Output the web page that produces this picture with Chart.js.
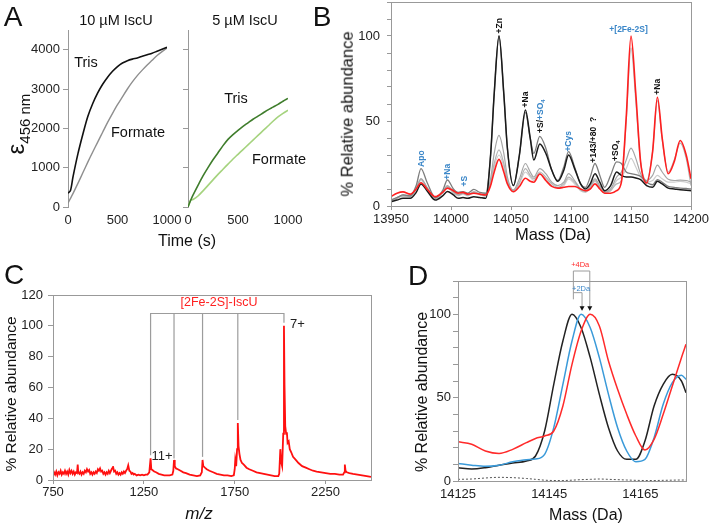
<!DOCTYPE html>
<html lang="en">
<head>
<meta charset="UTF-8">
<title>IscU [2Fe-2S] assembly</title>
<script src="https://cdn.jsdelivr.net/npm/chart.js@4"></script>
<style>
  body { margin:0; background:#fff; font-family:"Liberation Sans", Arial, sans-serif; }
  #fig { position:relative; width:709px; height:525px; overflow:hidden; background:#fff; }
  canvas { position:absolute; }
  .t { position:absolute; white-space:nowrap; color:#111; line-height:1; transform:translate(-50%,-50%); }
  .rot { transform:translate(-50%,-50%) rotate(-90deg); }
  .pl { font-size:28px; }
</style>
</head>
<body>
<div id="fig">
  <canvas id="a1" width="179" height="223" style="left:10px;top:14px"></canvas>
  <canvas id="a2" width="140" height="223" style="left:170px;top:14px"></canvas>
  <canvas id="b" width="373" height="246" style="left:340px;top:-14px"></canvas>
  <canvas id="c" width="393" height="246" style="left:0px;top:279px"></canvas>
  <canvas id="d" width="308" height="276" style="left:400px;top:249px"></canvas>

  <!-- panel A -->
  <div class="t pl" style="left:13px;top:17px">A</div>
  <div class="t" style="left:116px;top:20px;font-size:14.5px">10 µM IscU</div>
  <div class="t" style="left:245px;top:20px;font-size:14.5px">5 µM IscU</div>
  <div class="t" style="left:86px;top:62px;font-size:14.5px">Tris</div>
  <div class="t" style="left:138px;top:132px;font-size:14.5px">Formate</div>
  <div class="t" style="left:236px;top:98px;font-size:14.5px">Tris</div>
  <div class="t" style="left:279px;top:159px;font-size:14.5px">Formate</div>
  <div class="t" style="left:187px;top:241px;font-size:16px">Time (s)</div>
  <div class="t rot" style="left:16px;top:124px"><span style="font-size:24px">ε</span><span style="font-size:15px;position:relative;top:6px">456 nm</span></div>

  <!-- panel B -->
  <div class="t pl" style="left:322px;top:17px">B</div>
  <div class="t rot" style="left:347px;top:114px;font-size:16.5px">% Relative abundance</div>
  <div class="t" style="left:553px;top:234px;font-size:16.5px">Mass (Da)</div>

  <!-- panel C -->
  <div class="t pl" style="left:14px;top:275px">C</div>
  <div class="t rot" style="left:11px;top:394px;font-size:15.5px">% Relative abundance</div>
  <div class="t" style="left:199px;top:513px;font-size:17px;font-style:italic">m/z</div>

  <!-- panel D -->
  <div class="t pl" style="left:418px;top:276px">D</div>
  <div class="t rot" style="left:422px;top:392px;font-size:16px">% Relative abundance</div>
  <div class="t" style="left:586px;top:515px;font-size:16px">Mass (Da)</div>
</div>

<script>
// ---------- A: cluster formation kinetics ----------
const timeA     = [0, 25, 50, 100, 150, 200, 250, 300, 350, 400, 450, 500, 550, 600, 650, 700, 750, 800, 850, 900, 950, 1000];
const tris10    = [350, 420, 760, 1350, 1850, 2300, 2630, 2900, 3120, 3300, 3450, 3570, 3660, 3720, 3760, 3790, 3830, 3870, 3910, 3960, 4010, 4060];
const formate10 = [100, 220, 340, 600, 870, 1140, 1400, 1650, 1900, 2150, 2380, 2600, 2800, 3000, 3180, 3340, 3480, 3610, 3730, 3850, 3950, 4040];
const tris5     = [0, 160, 300, 550, 790, 1000, 1200, 1380, 1560, 1720, 1840, 1950, 2050, 2140, 2230, 2310, 2390, 2470, 2540, 2610, 2690, 2760];
const formate5  = [0, 170, 190, 280, 410, 550, 690, 830, 960, 1090, 1220, 1340, 1460, 1580, 1700, 1820, 1940, 2060, 2180, 2290, 2380, 2460];
const ticksAx = [0, 500, 1000];
const ticksAy = [0, 1000, 2000, 3000, 4000];

// ---------- B: deconvoluted mass spectra ----------
const massB = [13950, 13955, 13960, 13966, 13971, 13975, 13980, 13987, 13993, 13997, 14002, 14006, 14010, 14014, 14019, 14024, 14029, 14033, 14036, 14040,
               14044, 14047, 14052, 14057, 14062, 14066, 14069, 14074, 14079, 14084, 14089, 14094, 14098, 14103, 14108, 14112, 14116, 14120, 14124, 14128,
               14133, 14138, 14142, 14146, 14150, 14154, 14158, 14163, 14168, 14172, 14176, 14181, 14186, 14191, 14196, 14200];
const redB   = [5.5, 7.5, 8.3, 7, 10, 13.7, 10, 5.5, 8, 10.5, 9, 7.5, 8, 7, 7.5, 7, 6.5, 12, 20, 27.4,
                20, 13, 8.4, 11.5, 16.3, 14.5, 14, 18.8, 15, 11.5, 10.5, 11, 11.5, 11.5, 10, 9, 10, 13, 10, 7.5,
                7.5, 9, 14, 52, 100, 66, 26, 13.5, 32, 64, 40, 19, 26, 38.5, 30, 16];
const blackB = [2.5, 3.5, 4.5, 4.5, 8, 13, 9, 3.5, 6, 8.5, 6.5, 4.5, 5, 4.5, 5.5, 5, 4.5, 30, 66, 100,
                66, 34, 12, 30, 56.5, 40, 27, 36.5, 31, 21, 14.5, 21, 30, 22, 13, 10, 13, 19, 14, 9,
                12, 20, 18, 17, 17, 16.5, 15.5, 12, 11, 14.5, 13, 10.5, 10, 9.5, 9.3, 9];
const gray0B = [3.5, 5, 6.5, 6, 12, 22, 14, 5, 9, 15.3, 10, 8, 8.5, 7.5, 9.8, 8, 7.5, 30, 66, 100,
                66, 34, 12, 30, 55, 40, 31, 41, 34, 21, 15, 23, 32, 23, 13, 11, 17, 25, 18, 11,
                18, 26, 25, 20, 19, 18.5, 17.5, 14, 12.5, 15.5, 14, 11.5, 11, 10.5, 10.3, 10];
const gray1B = [3, 4.5, 6, 5.5, 10, 16, 11, 4.5, 8, 12, 8.5, 6.5, 7.5, 6.5, 8, 7, 6.5, 16, 31, 41.5,
                31, 17, 9.5, 16, 25, 20, 17, 22, 19, 14, 12, 14, 19, 15, 10, 9, 12, 16, 12, 8.5,
                10, 17, 20, 27, 34, 28, 19, 15, 18, 24, 20, 15.7, 15, 15.2, 15, 14];
const gray2B = [3.5, 5, 6.5, 6, 10.5, 16, 11, 4.5, 8, 11.5, 8, 6.5, 7.5, 6.5, 8.5, 7, 6, 14, 25, 33,
                25, 15, 9, 14, 22, 18, 16, 20, 17, 13, 11, 13, 17, 14, 9.5, 8.5, 11, 15, 11, 8,
                9, 13, 15, 50, 93, 62, 26, 15, 32, 62, 39, 20, 27, 37, 28, 12];
const gray3B = [3, 4.5, 6, 5.5, 10, 15, 10.5, 4.5, 7.5, 11, 7.5, 6, 7, 6, 8, 6.5, 6, 13, 23, 30,
                23, 14, 8.5, 13, 20, 17, 15, 19, 16, 12, 10.5, 12, 16, 13, 9, 8, 10.5, 14.5, 10.5, 8,
                9, 15, 17, 22, 28, 23, 17, 14, 15, 18, 16, 14, 14, 14.5, 14, 13];
const ticksBx = [13950, 14000, 14050, 14100, 14150, 14200];
const ticksBy = [0, 10, 20, 30, 40, 50, 60, 70, 80, 90, 100, 110, 120];
const shownBy = [0, 50, 100];

// ---------- C: native ESI spectrum ----------
const mzC = [750, 756, 762, 768, 774, 780, 786, 792, 798, 804, 810, 816, 822, 828, 834, 840, 846, 852, 858, 864, 870, 876, 882, 886, 889,
             895, 901, 907, 913, 919, 925, 931, 937, 943, 949, 955, 961, 967, 973, 979, 985, 991, 997, 1003, 1009, 1015, 1021, 1027, 1033, 1039,
             1045, 1051, 1057, 1063, 1069, 1075, 1080, 1086, 1092, 1098, 1104, 1110, 1116, 1122, 1128, 1134, 1140, 1146, 1152, 1158, 1164, 1170, 1176, 1182,
             1188, 1194, 1200, 1210, 1220, 1230, 1240, 1250, 1260, 1270, 1280, 1287, 1291, 1297, 1307, 1317, 1332, 1347, 1362, 1377, 1392, 1407, 1412, 1416,
             1420, 1427, 1437, 1452, 1467, 1482, 1502, 1522, 1542, 1560, 1569, 1573, 1577, 1586, 1596, 1611, 1631, 1651, 1671, 1691, 1711, 1731, 1745, 1750,
             1753, 1758, 1763, 1767, 1771, 1776, 1782, 1790, 1800, 1815, 1830, 1850, 1870, 1890, 1910, 1930, 1950, 1970, 1990, 1995, 2001, 2005, 2011, 2017,
             2021, 2024, 2028, 2033, 2037, 2041, 2047, 2053, 2061, 2071, 2086, 2101, 2121, 2141, 2161, 2181, 2201, 2226, 2251, 2276, 2301, 2326, 2346, 2353,
             2356, 2360, 2367, 2381, 2401, 2426, 2451, 2476, 2500];
const abC = [3, 5, 3.5, 5.5, 3, 5, 4, 6, 3.5, 5, 4, 6, 4, 5.5, 3.5, 6.5, 4.5, 6, 4, 5.5, 3.5, 5, 4.5, 10, 5,
             4, 5.5, 3.5, 5, 4, 6, 5, 7, 5.5, 6.5, 4, 5, 3.5, 5, 4, 5.5, 4.5, 7, 6, 7.5, 5.5, 6, 4, 5, 3.5,
             5, 4, 6, 4.5, 6, 7.5, 9, 5.5, 6, 4, 5, 3.5, 4.5, 3.5, 5, 4, 5.5, 4.5, 6, 7, 9.5, 6, 5.5, 4,
             4.5, 3.5, 4, 3, 3.5, 3, 3.5, 3, 3.5, 3.5, 5, 14, 7, 6.5, 5.5, 5, 4, 3.5, 3, 3, 3, 3.5, 6, 13,
             9, 7.5, 7, 6, 5, 4.5, 3.5, 3, 2.5, 3, 5, 13, 9, 8, 7, 6, 5, 4, 3.5, 3, 3, 2.5, 3, 7,
             13, 9, 20, 37, 22, 17, 13, 11, 10, 8, 7, 6, 5, 4.5, 4, 3.5, 3, 2.5, 2.5, 4, 20, 12, 9, 30,
             100, 62, 35, 30, 31, 24, 25, 20, 18, 15, 13, 11, 9, 8, 7, 6, 5.5, 5, 4.5, 4, 4, 3.5, 3.5, 5,
             10, 6, 5, 4.5, 4, 3.5, 3, 2.5, 2];
const chargeMz  = [1287, 1416, 1573, 1767, 2021];
const chargeTop = [16, 14, 15, 39, 102];
const ticksCx = [750, 1250, 1750, 2250];
const ticksCy = [0, 20, 40, 60, 80, 100, 120];

// ---------- D: zoom on the [2Fe-2S] peak ----------
const massD   = [14125, 14128, 14131, 14134, 14137, 14140, 14142, 14144, 14146, 14148, 14150, 14152, 14154, 14156, 14158, 14160, 14162, 14164, 14166, 14168, 14170, 14172, 14174, 14175];
const blackD  = [8, 7.2, 8, 9.5, 10.8, 12, 15, 30, 58, 84, 100, 92, 74, 52, 32, 18, 13, 13, 24, 45, 58, 64, 60, 53];
const blueD   = [10.5, 9.5, 8.8, 9.5, 11.5, 12.8, 13.2, 16, 32, 58, 84, 100, 92, 74, 52, 32, 18, 11.6, 13, 26, 46, 59, 63.5, 61];
const redD    = [23.5, 22, 18, 16.5, 19, 23, 25.5, 27, 30, 45, 70, 90, 100, 93, 72, 55, 40, 27, 18.6, 25, 40, 57, 74, 82];
const dottedD = [1, 1.2, 1.8, 2.2, 2, 1.5, 1, 0.5, 0.3, 0.3, 0.5, 0.8, 1, 1.2, 1, 0.8, 0.6, 0.4, 0.3, 0.3, 0.4, 0.5, 0.6, 0.6];
const peakD   = [14150.3, 14152.2, 14153.9];
const ticksDx = [14125, 14145, 14165];
const ticksDy = [0, 10, 20, 30, 40, 50, 60, 70, 80, 90, 100, 110, 120];
const shownDy = [0, 50, 100];

// ---------- helpers ----------
Chart.defaults.font.family = '"Liberation Sans", Arial, sans-serif';
Chart.defaults.font.size = 13;
Chart.defaults.color = '#222';
Chart.defaults.animation = false;
Chart.defaults.plugins.legend.display = false;
Chart.defaults.plugins.tooltip.enabled = false;
Chart.defaults.elements.point.radius = 0;

const AXIS = '#999';
const BLUE = '#3a86c8';
const INK = '#111';
const plain = v => String(v);   // no thousands separator

const xy = (xs, ys) => xs.map((x, i) => ({x, y: ys[i]}));
const line = (xs, ys, color, width, extra) => Object.assign({data: xy(xs, ys), borderColor: color, borderWidth: width, fill: false}, extra || {});

// box around the plot area
const frame = {
  id: 'frame',
  afterDraw(chart, args, o) {
    if (!o.color) return;
    const {left, top, right, bottom} = chart.chartArea;
    const ctx = chart.ctx;
    ctx.save();
    ctx.strokeStyle = o.color; ctx.lineWidth = 1;
    ctx.strokeRect(Math.round(left) + 0.5, Math.round(top) + 0.5, Math.round(right - left), Math.round(bottom - top));
    ctx.restore();
  }
};

// labels and brackets placed in data coordinates
const marks = {
  id: 'marks',
  afterDatasetsDraw(chart, args, o) {
    const ctx = chart.ctx, sx = chart.scales.x, sy = chart.scales.y;
    const P = p => [sx.getPixelForValue(p[0]), sy.getPixelForValue(p[1])];
    ctx.save();
    (o.lines || []).forEach(l => {
      ctx.strokeStyle = l.color; ctx.lineWidth = l.width || 1;
      ctx.beginPath();
      l.pts.forEach((p, i) => { const [x, y] = P(p); i ? ctx.lineTo(x, y) : ctx.moveTo(x, y); });
      ctx.stroke();
      if (l.arrow) {
        const [x, y] = P(l.pts[l.pts.length - 1]);
        ctx.fillStyle = l.arrow;
        ctx.beginPath(); ctx.moveTo(x - 2.5, y - 4); ctx.lineTo(x + 2.5, y - 4); ctx.lineTo(x, y + 0.5); ctx.closePath(); ctx.fill();
      }
    });
    (o.labels || []).forEach(t => {
      const [x, y] = P(t.at);
      ctx.save();
      ctx.translate(x, y);
      if (t.rot) ctx.rotate(-Math.PI / 2);
      ctx.textBaseline = 'middle'; ctx.textAlign = 'left';
      const size = t.size || 13, weight = t.bold ? 'bold ' : '';
      const runs = t.runs.map(r => Object.assign({}, r, {font: weight + (r.sub ? size * 0.72 : size) + 'px "Liberation Sans", Arial, sans-serif'}));
      let w = 0;
      runs.forEach(r => { ctx.font = r.font; r.w = ctx.measureText(r.t).width; w += r.w; });
      let cx = t.center ? -w / 2 : 0;
      runs.forEach(r => { ctx.font = r.font; ctx.fillStyle = r.c; ctx.fillText(r.t, cx, r.sub ? size * 0.3 : 0); cx += r.w; });
      ctx.restore();
    });
    ctx.restore();
  }
};

function xAxis(min, max, ticks, h, opt) {
  return Object.assign({
    type: 'linear', min, max,
    afterBuildTicks: s => { s.ticks = ticks.map(v => ({value: v})); },
    afterFit: s => { s.height = h; },
    border: {display: false},
    grid: {display: false, drawTicks: false},
    ticks: {padding: 6, maxRotation: 0, autoSkip: false, color: '#222', callback: plain}
  }, opt || {});
}
function yAxis(min, max, ticks, w, opt) {
  return Object.assign({
    min, max,
    afterBuildTicks: s => { s.ticks = ticks.map(v => ({value: v})); },
    afterFit: s => { s.width = w; },
    border: {display: true, color: AXIS},
    grid: {drawOnChartArea: false, tickLength: 5, color: AXIS},
    ticks: {padding: 3, autoSkip: false, color: '#222', callback: plain}
  }, opt || {});
}
const pad = {top: 16, right: 22, left: 0, bottom: 0};

// ---------- A ----------
new Chart(document.getElementById('a1'), {
  type: 'line',
  data: {datasets: [
    line(timeA, tris10, '#111', 1.6, {tension: 0.3}),
    line(timeA, formate10, '#8e8e8e', 1.4, {tension: 0.3})
  ]},
  options: {
    responsive: false, layout: {padding: pad},
    scales: {x: xAxis(0, 1000, ticksAx, 30), y: yAxis(0, 4500, ticksAy, 58)}
  }
});
new Chart(document.getElementById('a2'), {
  type: 'line',
  data: {datasets: [
    line(timeA, tris5, '#3f7d2c', 1.6, {tension: 0.3}),
    line(timeA, formate5, '#a5d37e', 1.6, {tension: 0.3})
  ]},
  options: {
    responsive: false, layout: {padding: pad},
    scales: {
      x: xAxis(0, 1000, ticksAx, 30),
      y: yAxis(0, 4500, ticksAy, 18, {ticks: {padding: 0, autoSkip: false, callback: () => ''}})
    }
  }
});

// ---------- B ----------
const lab = (m, v, runs, extra) => Object.assign({at: [m, v], runs, rot: true, bold: true, size: 8.5}, extra || {});
new Chart(document.getElementById('b'), {
  type: 'line',
  data: {datasets: [
    line(massB, redB, '#ff1f1f', 1.6, {cubicInterpolationMode: 'monotone'}),
    line(massB, blackB, '#1a1a1a', 1.5, {cubicInterpolationMode: 'monotone'}),
    line(massB, gray0B, '#7d7d7d', 1.3, {cubicInterpolationMode: 'monotone'}),
    line(massB, gray1B, '#a6a6a6', 1.2, {cubicInterpolationMode: 'monotone'}),
    line(massB, gray2B, '#b4b4b4', 1.2, {cubicInterpolationMode: 'monotone'}),
    line(massB, gray3B, '#cdcdcd', 1.2, {cubicInterpolationMode: 'monotone'})
  ]},
  plugins: [frame, marks],
  options: {
    responsive: false, layout: {padding: pad},
    plugins: {
      frame: {color: AXIS},
      marks: {labels: [
        lab(13975.6, 23, [{t: 'Apo', c: BLUE}]),
        lab(13997.5, 15.5, [{t: '+Na', c: BLUE}]),
        lab(14011.5, 11.5, [{t: '+S', c: BLUE}]),
        lab(14040.2, 101.5, [{t: '+Zn', c: INK}]),
        lab(14061.8, 58, [{t: '+Na', c: INK}]),
        lab(14074.7, 43, [{t: '+S/', c: INK}, {t: '+SO', c: BLUE}, {t: '4', c: BLUE, sub: true}]),
        lab(14097.8, 32, [{t: '+Cys', c: BLUE}]),
        lab(14119, 25.5, [{t: '+143/+80  ?', c: INK}]),
        lab(14137, 26.5, [{t: '+SO', c: INK}, {t: '4', c: INK, sub: true}]),
        lab(14148, 104, [{t: '+[2Fe-2S]', c: BLUE}], {rot: false, center: true}),
        lab(14172.2, 65.5, [{t: '+Na', c: INK}])
      ]}
    },
    scales: {
      x: xAxis(13950, 14200, ticksBx, 26, {grid: {drawOnChartArea: false, tickLength: 4, color: AXIS}, ticks: {padding: 2, maxRotation: 0, autoSkip: false, color: '#222', callback: plain}}),
      y: yAxis(0, 120, ticksBy, 51, {border: {display: false}, grid: {drawOnChartArea: false, tickLength: 4, color: AXIS},
        ticks: {padding: 7, autoSkip: false, color: '#222', callback: v => shownBy.includes(v) ? String(v) : ''}})
    }
  }
});

// ---------- C ----------
const bracketC = [{color: '#9c9c9c', width: 1.2, pts: [[chargeMz[0], chargeTop[0]], [chargeMz[0], 108], [chargeMz[4], 108], [chargeMz[4], chargeTop[4]]]}]
  .concat(chargeMz.slice(1, 4).map((m, i) => ({color: '#9c9c9c', width: 1.2, pts: [[m, 108], [m, chargeTop[i + 1]]]})));
new Chart(document.getElementById('c'), {
  type: 'line',
  data: {datasets: [line(mzC, abC, '#ff1010', 1.8, {tension: 0})]},
  plugins: [frame, marks],
  options: {
    responsive: false, layout: {padding: pad},
    plugins: {
      frame: {color: AXIS},
      marks: {
        lines: bracketC,
        labels: [
          {at: [1664, 115], runs: [{t: '[2Fe-2S]-IscU', c: '#ff2020'}], size: 12.5, center: true},
          {at: [2054, 100.7], runs: [{t: '7+', c: '#222'}], size: 13},
          {at: [1292, 15], runs: [{t: '11+', c: '#222'}], size: 13}
        ]
      }
    },
    scales: {
      x: xAxis(750, 2500, ticksCx, 45, {grid: {drawOnChartArea: false, tickLength: 4, color: AXIS}, ticks: {padding: 1, maxRotation: 0, autoSkip: false, color: '#222', callback: plain}}),
      y: yAxis(0, 120, ticksCy, 53, {border: {display: false}, ticks: {padding: 5, autoSkip: false, color: '#222', callback: plain}})
    }
  }
});

// ---------- D ----------
new Chart(document.getElementById('d'), {
  type: 'line',
  data: {datasets: [
    line(massD, redD, '#ff2a2a', 1.5, {cubicInterpolationMode: 'monotone'}),
    line(massD, blueD, '#3a9ad9', 1.5, {cubicInterpolationMode: 'monotone'}),
    line(massD, blackD, '#222', 1.5, {cubicInterpolationMode: 'monotone'}),
    line(massD, dottedD, '#555', 1, {cubicInterpolationMode: 'monotone', borderDash: [2, 2]})
  ]},
  plugins: [frame, marks],
  options: {
    responsive: false, layout: {padding: {top: 32, right: 22, left: 0, bottom: 0}},
    plugins: {
      frame: {color: AXIS},
      marks: {
        lines: [
          {color: '#9c9c9c', pts: [[peakD[0], 109], [peakD[0], 126], [peakD[2], 126], [peakD[2], 102.5]], arrow: '#111'},
          {color: '#9c9c9c', pts: [[peakD[0], 113], [peakD[1], 113], [peakD[1], 102.5]], arrow: '#111'}
        ],
        labels: [
          {at: [14151.8, 129.5], runs: [{t: '+4Da', c: '#ff2a2a'}], size: 7.5, center: true},
          {at: [14152, 115.5], runs: [{t: '+2Da', c: BLUE}], size: 7.5, center: true}
        ]
      }
    },
    scales: {
      x: xAxis(14125, 14175, ticksDx, 44),
      y: yAxis(0, 120, ticksDy, 58, {border: {display: false}, ticks: {padding: 2, autoSkip: false, color: '#222', callback: v => shownDy.includes(v) ? String(v) : ''}})
    }
  }
});
</script>
</body>
</html>
